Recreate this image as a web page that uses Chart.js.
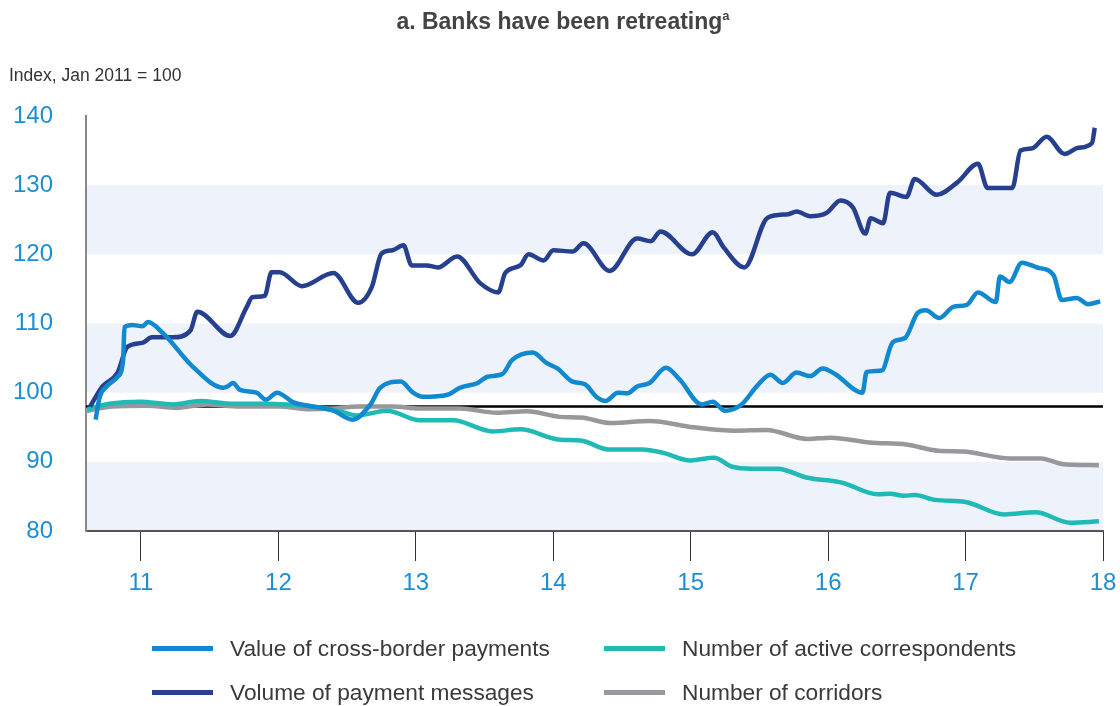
<!DOCTYPE html>
<html>
<head>
<meta charset="utf-8">
<script src="https://cdn.jsdelivr.net/npm/chart.js@4.4.1/dist/chart.umd.min.js"></script>
<style>
  html, body { margin: 0; padding: 0; background: #fff; }
  #wrap { position: relative; width: 1120px; height: 706px; font-family: "Liberation Sans", Arial, sans-serif; }
  #chart { position: absolute; left: 0; top: 0; }
  .title { position: absolute; left: 0; width: 1126px; top: 10px; text-align: center; font-size: 23px; line-height: 1; font-weight: bold; color: #444; }
  .title sup { font-size: 13px; vertical-align: 9px; line-height: 0; }
  .unit { position: absolute; left: 9px; top: 67px; font-size: 17.5px; line-height: 1; color: #333; }
  .lg-text { position: absolute; font-size: 22.7px; line-height: 1; color: #3a3a3a; white-space: nowrap; }
  .lg-swatch { position: absolute; width: 61px; height: 5px; }
</style>
</head>
<body>
<div id="wrap">
  <canvas id="chart" width="1120" height="706"></canvas>
  <div class="title">a. Banks have been retreating<sup>a</sup></div>
  <div class="unit">Index, Jan 2011 = 100</div>
  <div id="legend"></div>
</div>
<script>
// axis ticks
const X_TICKS = [11, 12, 13, 14, 15, 16, 17, 18];
const Y_TICKS = [80, 90, 100, 110, 120, 130, 140];
const BASE_LINE = 98;

// Value of cross-border payments
const valueX = [10.67, 10.70, 10.75, 10.83, 10.87, 10.88, 10.94, 11.01, 11.05, 11.16, 11.38, 11.60, 11.63, 11.67, 11.72, 11.84, 11.91, 11.99,
  12.11, 12.25, 12.40, 12.54, 12.67, 12.74, 12.89, 12.98, 13.05, 13.23, 13.32, 13.45, 13.52, 13.63, 13.70, 13.85, 13.95,
  14.03, 14.14, 14.23, 14.32, 14.38, 14.47, 14.54, 14.61, 14.70, 14.82, 14.92, 15.08, 15.16, 15.25, 15.37, 15.48, 15.58,
  15.67, 15.77, 15.87, 15.96, 16.05, 16.25, 16.28, 16.39, 16.47, 16.56, 16.65, 16.71, 16.81, 16.91, 17.01, 17.09, 17.22,
  17.25, 17.32, 17.41, 17.52, 17.64, 17.70, 17.81, 17.89, 17.98];
const valueY = [96.1, 99.4, 100.9, 102.3, 104.7, 109.5, 109.8, 109.6, 110.2, 108.6, 103.7, 100.7, 100.9, 101.4, 100.4, 100.0, 99.0, 100.0,
  98.6, 98.0, 97.4, 96.1, 98.3, 100.7, 101.6, 100.0, 99.4, 99.7, 100.7, 101.4, 102.3, 102.7, 104.7, 105.8, 104.3,
  103.5, 101.6, 101.2, 99.3, 98.8, 100.0, 99.9, 100.9, 101.4, 103.6, 101.9, 98.3, 98.7, 97.4, 98.3, 100.9, 102.6,
  101.4, 102.9, 102.4, 103.5, 102.7, 100.0, 103.0, 103.2, 107.3, 107.9, 111.5, 111.9, 110.8, 112.4, 112.7, 114.5, 113.1,
  116.8, 116.0, 118.8, 118.1, 117.0, 113.4, 113.7, 112.8, 113.2];

// Volume of payment messages
const volumeX = [10.63, 10.72, 10.83, 10.90, 11.01, 11.08, 11.23, 11.36, 11.41, 11.65, 11.77, 11.81, 11.90, 11.95, 12.01, 12.17,
  12.40, 12.58, 12.68, 12.75, 12.83, 12.91, 12.97, 13.08, 13.16, 13.30, 13.47, 13.60, 13.65, 13.76, 13.82, 13.93, 14.00,
  14.14, 14.22, 14.41, 14.61, 14.71, 14.78, 15.01, 15.16, 15.24, 15.39, 15.56, 15.71, 15.77, 15.87, 15.99, 16.09, 16.18,
  16.27, 16.31, 16.40, 16.45, 16.57, 16.63, 16.79, 16.94, 17.09, 17.16, 17.34, 17.40, 17.48, 17.59, 17.72, 17.82, 17.92, 17.94];
const volumeY = [98.0, 100.9, 102.9, 106.6, 107.2, 108.0, 108.0, 109.0, 111.7, 108.2, 112.4, 113.8, 114.0, 117.4, 117.4, 115.4,
  117.3, 113.0, 115.3, 120.1, 120.6, 121.3, 118.4, 118.4, 118.1, 119.7, 115.8, 114.5, 117.3, 118.4, 120.0, 119.1, 120.6,
  120.4, 121.6, 117.6, 122.3, 121.9, 123.3, 120.0, 123.2, 121.0, 118.1, 125.3, 125.8, 126.2, 125.5, 126.0, 127.8, 126.8,
  123.0, 125.2, 124.5, 128.9, 128.3, 130.9, 128.6, 130.4, 133.1, 129.6, 129.6, 135.0, 135.3, 137.0, 134.5, 135.4, 136.1, 138.3];

// Number of active correspondents
const correspX = [10.61, 10.77, 10.99, 11.23, 11.43, 11.65, 11.89, 12.06, 12.25, 12.45, 12.57, 12.79, 13.03, 13.27, 13.56, 13.76,
  14.05, 14.20, 14.40, 14.65, 14.80, 15.00, 15.17, 15.30, 15.45, 15.63, 15.85, 16.10, 16.36, 16.45, 16.55, 16.63, 16.78,
  17.00, 17.28, 17.51, 17.76, 17.97];
const correspY = [97.6, 98.4, 98.7, 98.3, 98.8, 98.4, 98.4, 98.3, 98.0, 97.3, 96.7, 97.4, 96.0, 96.0, 94.4, 94.7,
  93.2, 93.1, 91.8, 91.8, 91.3, 90.2, 90.6, 89.3, 89.0, 89.0, 87.7, 87.0, 85.3, 85.4, 85.1, 85.2, 84.5,
  84.2, 82.4, 82.7, 81.2, 81.4];

// Number of corridors
const corridorX = [10.59, 10.79, 11.04, 11.26, 11.48, 11.72, 12.01, 12.21, 12.40, 12.59, 12.83, 13.03, 13.32, 13.59, 13.81,
  14.05, 14.20, 14.42, 14.70, 15.02, 15.32, 15.55, 15.85, 16.02, 16.30, 16.57, 16.80, 16.98, 17.32, 17.55, 17.70, 17.97];
const corridorY = [97.3, 98.0, 98.1, 97.8, 98.3, 98.0, 98.0, 97.6, 97.7, 98.0, 98.0, 97.7, 97.7, 97.1, 97.3,
  96.5, 96.4, 95.6, 95.9, 95.0, 94.5, 94.6, 93.3, 93.5, 92.8, 92.5, 91.6, 91.5, 90.5, 90.5, 89.7, 89.5];

const seriesLabels = ['Value of cross-border payments', 'Volume of payment messages',
  'Number of active correspondents', 'Number of corridors'];
const seriesColors = ['#1089d0', '#263f8e', '#1fbab5', '#98989c'];

function toPoints(xs, ys) {
  return xs.map((x, i) => ({ x: x, y: ys[i] }));
}

const bandsPlugin = {
  id: 'bands',
  beforeDraw(chart) {
    const { ctx, chartArea, scales } = chart;
    ctx.save();
    ctx.fillStyle = '#eef3fb';
    for (let i = 0; i < Y_TICKS.length - 1; i += 2) {
      const top = scales.y.getPixelForValue(Y_TICKS[i + 1]);
      const bottom = scales.y.getPixelForValue(Y_TICKS[i]);
      ctx.fillRect(chartArea.left, top, chartArea.right - chartArea.left, bottom - top);
    }
    ctx.restore();
  },
  beforeDatasetsDraw(chart) {
    const { ctx, chartArea, scales } = chart;
    const y = scales.y.getPixelForValue(BASE_LINE);
    ctx.save();
    ctx.strokeStyle = '#000';
    ctx.lineWidth = 2.5;
    ctx.beginPath();
    ctx.moveTo(chartArea.left, y);
    ctx.lineTo(chartArea.right, y);
    ctx.stroke();
    ctx.restore();
  }
};

const allX = [valueX, volumeX, correspX, corridorX];
const allY = [valueY, volumeY, correspY, corridorY];

new Chart(document.getElementById('chart').getContext('2d'), {
  type: 'line',
  data: {
    datasets: seriesLabels.map((label, i) => ({
      label: label,
      data: toPoints(allX[i], allY[i]),
      borderColor: seriesColors[i],
      backgroundColor: seriesColors[i],
      borderWidth: 4.5,
      pointRadius: 0,
      fill: false,
      cubicInterpolationMode: 'monotone'
    }))
  },
  options: {
    responsive: false,
    animation: false,
    devicePixelRatio: 1,
    layout: { padding: { left: 0, right: 17, top: 116, bottom: 0 } },
    plugins: { legend: { display: false }, tooltip: { enabled: false } },
    scales: {
      x: {
        type: 'linear',
        min: 10.6,
        max: 18,
        afterBuildTicks: s => { s.ticks = X_TICKS.map(v => ({ value: v })); },
        afterFit: s => { s.height = 175; s.paddingLeft = 0; s.paddingRight = 0; },
        grid: { drawOnChartArea: false, drawTicks: true, tickLength: 30, color: '#333', lineWidth: 1 },
        border: { color: '#555', width: 2 },
        ticks: { color: '#1b8fd2', font: { family: 'Liberation Sans', size: 24 }, padding: 8, maxRotation: 0 }
      },
      y: {
        min: 80,
        max: 140,
        afterBuildTicks: s => { s.ticks = Y_TICKS.map(v => ({ value: v })); },
        afterFit: s => { s.width = 86; },
        grid: { drawOnChartArea: false, drawTicks: false },
        border: { color: '#888', width: 2 },
        ticks: { color: '#1b8fd2', font: { family: 'Liberation Sans', size: 24 }, padding: 33 }
      }
    }
  },
  plugins: [bandsPlugin]
});

// legend, two columns
const legendPos = [[152, 648], [152, 692], [604, 648], [604, 692]];
const legend = document.getElementById('legend');
seriesLabels.forEach((label, i) => {
  const [lx, ly] = legendPos[i];
  const sw = document.createElement('div');
  sw.className = 'lg-swatch';
  sw.style.left = lx + 'px';
  sw.style.top = (ly - 2.5) + 'px';
  sw.style.background = seriesColors[i];
  legend.appendChild(sw);
  const tx = document.createElement('div');
  tx.className = 'lg-text';
  tx.style.left = (lx + 78) + 'px';
  tx.style.top = (ly - 11) + 'px';
  tx.textContent = label;
  legend.appendChild(tx);
});
</script>
</body>
</html>
